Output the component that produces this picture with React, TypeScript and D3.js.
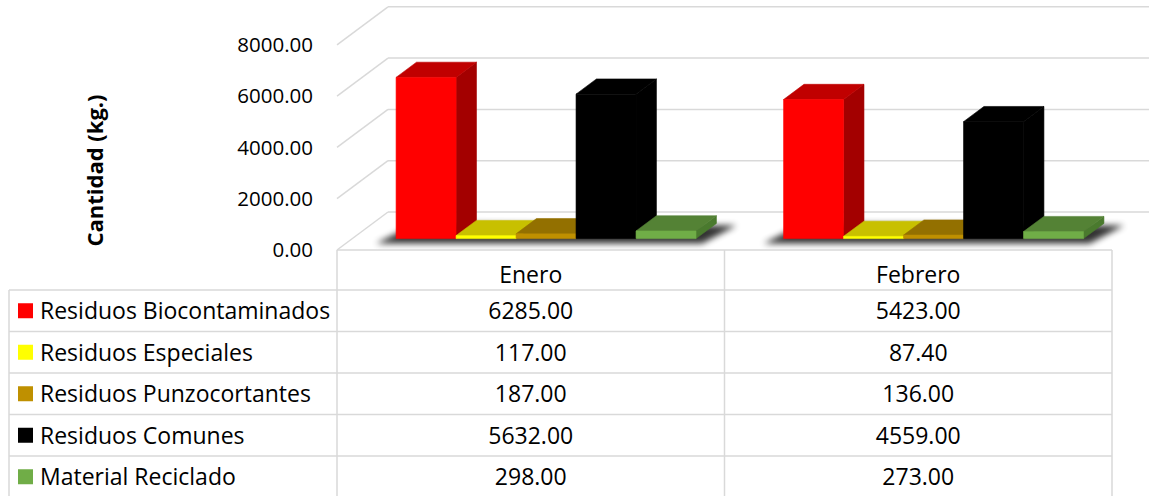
import React from 'react';
import * as d3 from 'd3';

const categories = ['Enero', 'Febrero'];
const seriesNames = [
  'Residuos Biocontaminados',
  'Residuos Especiales',
  'Residuos Punzocortantes',
  'Residuos Comunes',
  'Material Reciclado',
];
const biocontaminados = [6285, 5423];
const especiales = [117, 87.4];
const punzocortantes = [187, 136];
const comunes = [5632, 4559];
const reciclado = [298, 273];
const yTicks = [0, 2000, 4000, 6000, 8000];

const frontColors = ['#FF0000', '#FFFF00', '#BF9000', '#000000', '#70AD47'];
const topColors = ['#C00000', '#C8C000', '#937000', '#000000', '#548235'];
const sideColors = ['#A30000', '#A8A000', '#7F6000', '#000000', '#4A7A2E'];

const seriesValues = [biocontaminados, especiales, punzocortantes, comunes, reciclado];

const W = 1149;
const H = 496;
const DX = 51;
const DY = 38;
const D0 = 0.3;
const D1 = 0.7;
const FONT = "'Open Sans', sans-serif";
const GRID = '#D9D9D9';

export default function App() {
  const left = 337;
  const right = 1112;
  const floorY = 250;
  const y = d3.scaleLinear().domain([0, 8000]).range([floorY, floorY - 205.2]);
  const x = d3.scaleBand<string>().domain(categories).range([left, right]).padding(0);
  const groupW = x.bandwidth() * 0.774;

  const P = (px: number, v: number, d: number): [number, number] => [px + d * DX, y(v) - d * DY];
  const pts = (arr: [number, number][]) => arr.map((p) => p.join(',')).join(' ');

  const rowTop = 290;
  const rowH = 41.5;
  const tableLeft = 9;
  const fmt = d3.format('.2f');

  return (
    <svg width={W} height={H} style={{ position: 'absolute', left: 0, top: 0, background: '#fff' }} fontFamily={FONT}>
      <defs>
        <filter id="shadowBlur" x="-20%" y="-100%" width="140%" height="300%">
          <feGaussianBlur stdDeviation="3" />
        </filter>
      </defs>
      <rect x={0} y={0} width={W} height={H} fill="#fff" />
      {yTicks.map((t) => (
        <g key={'g' + t}>
          <line x1={left} y1={y(t)} x2={left + DX} y2={y(t) - DY} stroke={GRID} strokeWidth={1.5} />
          <line x1={left + DX} y1={y(t) - DY} x2={right + DX} y2={y(t) - DY} stroke={GRID} strokeWidth={1.5} />
        </g>
      ))}
      {yTicks.map((t) => (
        <text key={'t' + t} x={313} y={y(t)} dy="0.36em" textAnchor="end" fontSize={20.5} fill="#000">
          {fmt(t)}
        </text>
      ))}
      <text
        transform={`translate(103,170.5) rotate(-90)`}
        textAnchor="middle"
        fontSize={22}
        fontWeight="bold"
        fill="#000"
      >
        Cantidad (kg.)
      </text>
      {categories.map((c, ci) => {
        const cx = (x(c) as number) + x.bandwidth() / 2;
        const inner = d3.scaleBand<string>().domain(seriesNames).range([cx - groupW / 2, cx + groupW / 2]).padding(0);
        const g0 = cx - groupW / 2;
        const g1 = cx + groupW / 2;
        const fl = P(g0 - 20, 0, D0);
        const fr = P(g1 + 6, 0, D0);
        const br = P(g1 + 20, 0, D1);
        const bl = P(g0, 0, D1);
        const shadow: [number, number][] = [
          [fl[0], fl[1] + 5],
          [fr[0], fr[1] + 5],
          [br[0], br[1] + 2],
          [bl[0], bl[1]],
        ];
        return (
          <g key={c}>
            <polygon points={pts(shadow)} fill="#000" opacity={0.8} filter="url(#shadowBlur)" />
            {seriesNames.map((s, si) => {
              const v = seriesValues[si][ci];
              const x0 = inner(s) as number;
              const x1 = x0 + inner.bandwidth();
              const front = [P(x0, 0, D0), P(x1, 0, D0), P(x1, v, D0), P(x0, v, D0)] as [number, number][];
              const top = [P(x0, v, D0), P(x1, v, D0), P(x1, v, D1), P(x0, v, D1)] as [number, number][];
              const side = [P(x1, 0, D0), P(x1, 0, D1), P(x1, v, D1), P(x1, v, D0)] as [number, number][];
              return (
                <g key={s} strokeWidth={0.6} strokeLinejoin="round">
                  <polygon points={pts(side)} fill={sideColors[si]} stroke={sideColors[si]} />
                  <polygon points={pts(top)} fill={topColors[si]} stroke={topColors[si]} />
                  <polygon points={pts(front)} fill={frontColors[si]} stroke={frontColors[si]} />
                </g>
              );
            })}
          </g>
        );
      })}
      <g stroke={GRID} strokeWidth={1.5} fill="none">
        <line x1={left} y1={floorY} x2={right} y2={floorY} />
        {d3.range(seriesNames.length + 1).map((i) => (
          <line key={'h' + i} x1={tableLeft} y1={rowTop + i * rowH} x2={right} y2={rowTop + i * rowH} />
        ))}
        <line x1={tableLeft} y1={rowTop} x2={tableLeft} y2={H} />
        <line x1={left} y1={floorY} x2={left} y2={H} />
        {categories.map((c) => (
          <line key={'v' + c} x1={(x(c) as number) + x.bandwidth()} y1={floorY} x2={(x(c) as number) + x.bandwidth()} y2={H} />
        ))}
      </g>
      {categories.map((c) => (
        <text key={'hd' + c} x={(x(c) as number) + x.bandwidth() / 2} y={275} dy="0.36em" textAnchor="middle" fontSize={23} fill="#000">
          {c}
        </text>
      ))}
      {seriesNames.map((s, si) => {
        const cy = rowTop + si * rowH + rowH / 2;
        return (
          <g key={'r' + s}>
            <rect x={18} y={cy - 7.5} width={15} height={15} fill={frontColors[si]} />
            <text x={40} y={cy} dy="0.36em" fontSize={23} fill="#000">
              {s}
            </text>
            {categories.map((c, ci) => (
              <text
                key={c}
                x={(x(c) as number) + x.bandwidth() / 2}
                y={cy}
                dy="0.36em"
                textAnchor="middle"
                fontSize={23}
                fill="#000"
              >
                {fmt(seriesValues[si][ci])}
              </text>
            ))}
          </g>
        );
      })}
    </svg>
  );
}
